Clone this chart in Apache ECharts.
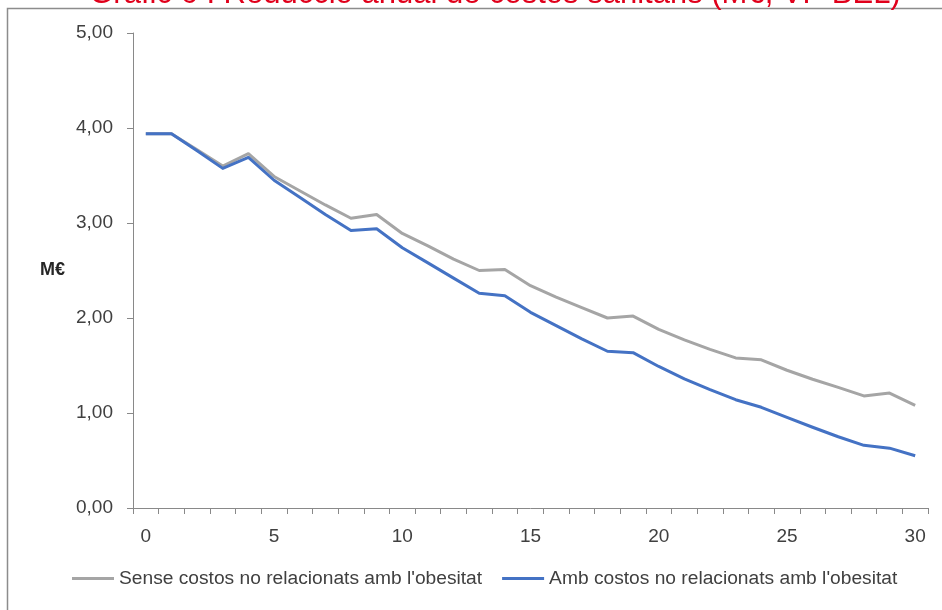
<!DOCTYPE html>
<html>
<head>
<meta charset="utf-8">
<script src="https://cdn.jsdelivr.net/npm/echarts@6/dist/echarts.min.js"></script>
<style>
  html, body { margin: 0; padding: 0; background: #fff; }
  #chart { width: 942px; height: 610px; }
</style>
</head>
<body>
<div id="chart"></div>
<script>
// Years since the start of the intervention
const years = Array.from({ length: 31 }, (_, i) => String(i));

// Annual reduction in healthcare costs (M€)
const senseCostos = [3.94, 3.94, 3.77, 3.60, 3.73, 3.49, 3.34, 3.19, 3.05, 3.09,
  2.89, 2.76, 2.62, 2.50, 2.51, 2.34, 2.22, 2.11, 2.00, 2.02,
  1.88, 1.77, 1.67, 1.58, 1.56, 1.45, 1.355, 1.27, 1.18, 1.21, 1.08];
const ambCostos = [3.94, 3.94, 3.76, 3.575, 3.69, 3.45, 3.27, 3.09, 2.92, 2.94,
  2.74, 2.58, 2.42, 2.26, 2.235, 2.06, 1.92, 1.78, 1.65, 1.635,
  1.49, 1.36, 1.245, 1.14, 1.06, 0.955, 0.85, 0.75, 0.66, 0.63, 0.55];

const seriesNames = ["Sense costos no relacionats amb l'obesitat", "Amb costos no relacionats amb l'obesitat"];
const titleText = 'Gràfic 6 : Reducció anual de costos sanitaris (M€, VP BEL)';

const FONT = 'Liberation Sans';
const chart = echarts.init(document.getElementById('chart'), null, { renderer: 'canvas' });

chart.setOption({
  animation: false,
  backgroundColor: '#ffffff',
  graphic: [
    {
      type: 'rect',
      shape: { x: 7.5, y: 8.5, width: 945, height: 620 },
      style: { fill: 'none', stroke: '#8c8c8c', lineWidth: 1.5 },
      silent: true
    },
    {
      type: 'text',
      x: 495, y: 10,
      style: {
        text: titleText,
        fill: '#e0001b',
        font: '31px ' + FONT,
        textAlign: 'center',
        textVerticalAlign: 'bottom'
      },
      silent: true
    }
  ],
  grid: { left: 133, right: 14, top: 33, bottom: 102 },
  legend: {
    bottom: 17,
    left: 67,
    itemGap: 20,
    itemWidth: 42,
    itemHeight: 3,
    icon: 'rect',
    textStyle: { fontFamily: FONT, fontSize: 19.2, color: '#404040' },
    data: seriesNames
  },
  xAxis: {
    type: 'category',
    data: years,
    boundaryGap: true,
    axisLine: { lineStyle: { color: '#898989', width: 1 } },
    axisTick: { show: true, length: 6, interval: 0, lineStyle: { color: '#898989' } },
    axisLabel: {
      interval: 4,
      margin: 19,
      fontFamily: FONT, fontSize: 19, color: '#404040'
    },
    splitLine: { show: false }
  },
  yAxis: {
    type: 'value',
    min: 0, max: 5, interval: 1,
    name: 'M€',
    nameLocation: 'middle',
    nameRotate: 0,
    nameGap: 68,
    nameTextStyle: { fontFamily: FONT, fontSize: 18, fontWeight: 'bold', color: '#262626' },
    axisLine: { show: true, lineStyle: { color: '#898989', width: 1 } },
    axisTick: { show: true, length: 6, lineStyle: { color: '#898989' } },
    axisLabel: {
      margin: 20,
      fontFamily: FONT, fontSize: 19, color: '#404040',
      formatter: v => v.toFixed(2).replace('.', ',')
    },
    splitLine: { show: false }
  },
  series: [
    {
      name: seriesNames[0],
      type: 'line',
      data: senseCostos,
      symbol: 'none',
      lineStyle: { color: '#a5a5a5', width: 3, join: 'round' },
      itemStyle: { color: '#a5a5a5' }
    },
    {
      name: seriesNames[1],
      type: 'line',
      data: ambCostos,
      symbol: 'none',
      lineStyle: { color: '#4472c4', width: 3, join: 'round' },
      itemStyle: { color: '#4472c4' }
    }
  ]
});
</script>
</body>
</html>
